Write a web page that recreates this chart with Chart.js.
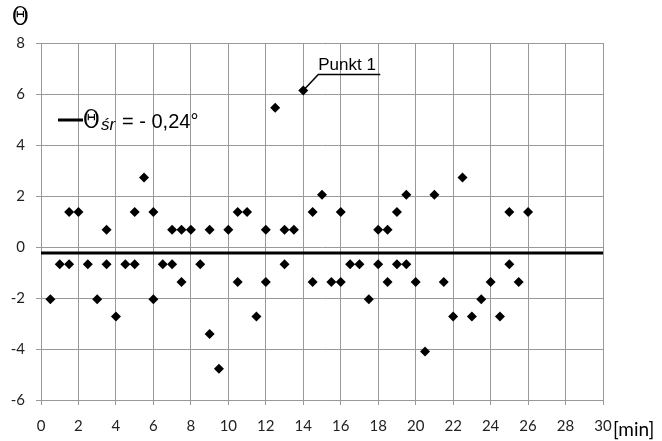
<!DOCTYPE html>
<html>
<head>
<meta charset="utf-8">
<script src="https://cdn.jsdelivr.net/npm/chart.js@4.4.1/dist/chart.umd.min.js"></script>
<style>
  html, body { margin: 0; padding: 0; background: #fff; }
  #wrap { width: 662px; height: 441px; }
</style>
</head>
<body>
<div id="wrap"><canvas id="thetaChart" width="662" height="441"></canvas></div>
<script>
const times = [
  0.5, 1, 1.5, 1.5, 2, 2.5, 3, 3.5, 3.5, 4, 4.5, 5, 5, 5.5, 6, 6, 6.5, 7, 7, 7.5, 7.5, 8, 8.5,
  9, 9, 9.5, 10, 10.5, 10.5, 11, 11.5, 12, 12, 12.5, 13, 13, 13.5, 14, 14.5, 14.5, 15, 15.5,
  16, 16, 16.5, 17, 17.5, 18, 18, 18.5, 18.5, 19, 19, 19.5, 19.5, 20, 20.5, 21, 21.5, 22,
  22.5, 23, 23.5, 24, 24.5, 25, 25, 25.5, 26
];
const thetas = [
  -2.05, -0.68, 1.37, -0.68, 1.37, -0.68, -2.05, 0.68, -0.68, -2.73, -0.68, 1.37, -0.68, 2.73,
  1.37, -2.05, -0.68, 0.68, -0.68, 0.68, -1.37, 0.68, -0.68,
  0.68, -3.41, -4.77, 0.68, 1.37, -1.37, 1.37, -2.73, 0.68, -1.37, 5.46, 0.68, -0.68, 0.68,
  6.14, 1.37, -1.37, 2.05, -1.37,
  1.37, -1.37, -0.68, -0.68, -2.05, 0.68, -0.68, 0.68, -1.37, 1.37, -0.68, 2.05, -0.68,
  -1.37, -4.1, 2.05, -1.37, -2.73,
  2.73, -2.73, -2.05, -1.37, -2.73, 1.37, -0.68, -1.37, 1.37
];
const meanTheta = -0.24;
const xTicks = [0, 2, 4, 6, 8, 10, 12, 14, 16, 18, 20, 22, 24, 26, 28, 30];
const yTicks = [-6, -4, -2, 0, 2, 4, 6, 8];
const markedIndex = 37; // "Punkt 1"

const points = times.map((t, i) => ({ x: t, y: thetas[i] }));
const meanLine = [{ x: xTicks[0], y: meanTheta }, { x: xTicks[xTicks.length - 1], y: meanTheta }];

function drawTheta(ctx, x, y) {
  ctx.save();
  ctx.font = "24px 'DejaVu Serif'";
  ctx.textAlign = "left";
  ctx.textBaseline = "alphabetic";
  ctx.translate(x, y);
  ctx.scale(0.85, 1.05);
  ctx.fillText("Θ", 0, 0);
  ctx.restore();
}

const labelsPlugin = {
  id: "labels",
  afterDraw(chart) {
    const ctx = chart.ctx;
    const xs = chart.scales.x;
    const ys = chart.scales.y;
    ctx.save();
    ctx.fillStyle = "#000";
    ctx.strokeStyle = "#000";

    // axis name at top-left
    drawTheta(ctx, 12, 25);

    // unit after last x tick
    ctx.font = "19px Lato";
    ctx.textAlign = "left";
    ctx.fillText("[min]", 613, 436);

    // legend for mean line
    ctx.lineWidth = 3;
    ctx.beginPath();
    ctx.moveTo(58, 120);
    ctx.lineTo(83, 120);
    ctx.stroke();
    drawTheta(ctx, 83, 128);
    ctx.font = "italic 17px 'Liberation Sans'";
    ctx.fillText("śr", 101, 130);
    ctx.font = "20px 'Liberation Sans'";
    ctx.fillText("= - 0,24°", 122, 128);

    // annotation
    const px = xs.getPixelForValue(times[markedIndex]);
    const py = ys.getPixelForValue(thetas[markedIndex]);
    ctx.lineWidth = 1.5;
    ctx.beginPath();
    ctx.moveTo(px, py);
    ctx.lineTo(px + 15, py - 16);
    ctx.lineTo(px + 77, py - 16);
    ctx.stroke();
    ctx.font = "17px 'Liberation Sans'";
    ctx.fillText("Punkt 1", px + 15, py - 20);
    ctx.restore();
  }
};

new Chart(document.getElementById("thetaChart"), {
  type: "scatter",
  data: {
    datasets: [
      {
        label: "mean",
        data: meanLine,
        showLine: true,
        borderColor: "#000",
        borderWidth: 3,
        pointRadius: 0,
        order: 2
      },
      {
        label: "theta",
        data: points,
        pointStyle: "rectRot",
        pointRadius: 5,
        backgroundColor: "#000",
        borderColor: "#000",
        borderWidth: 0,
        order: 1
      }
    ]
  },
  options: {
    responsive: false,
    animation: false,
    events: [],
    layout: { padding: { top: 43, right: 59, left: 0, bottom: 0 } },
    plugins: {
      legend: { display: false },
      tooltip: { enabled: false }
    },
    scales: {
      x: {
        type: "linear",
        min: 0,
        max: 30,
        afterBuildTicks: (s) => { s.ticks = xTicks.map((v) => ({ value: v })); },
        afterFit: (s) => { s.height = 41; },
        grid: { color: "#999", tickLength: 5, drawTicks: true },
        border: { color: "#999" },
        ticks: { color: "#222", font: { family: "Lato", size: 15 }, padding: 12, maxRotation: 0 }
      },
      y: {
        min: -6,
        max: 8,
        afterBuildTicks: (s) => { s.ticks = yTicks.map((v) => ({ value: v })); },
        afterFit: (s) => { s.width = 41; },
        grid: { color: "#999", tickLength: 5 },
        border: { color: "#999" },
        ticks: { color: "#222", font: { family: "Lato", size: 15 }, padding: 11 }
      }
    }
  },
  plugins: [labelsPlugin]
});
</script>
</body>
</html>
